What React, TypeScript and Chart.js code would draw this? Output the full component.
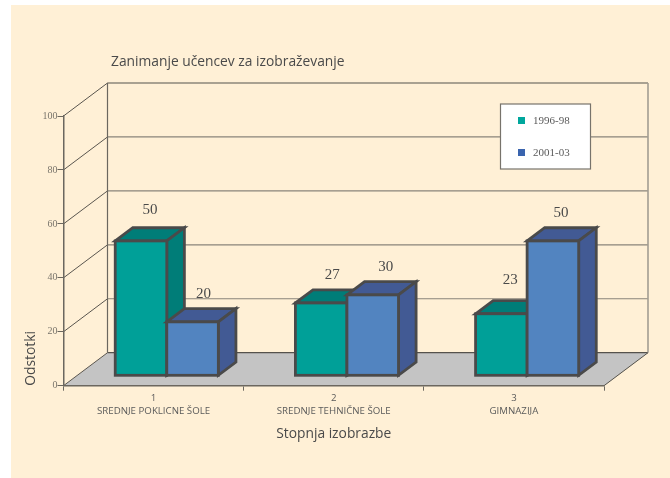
import React, { useEffect, useRef } from "react";
import { Chart, registerables } from "chart.js";

Chart.register(...registerables);

const categories: string[][] = [
  ["1", "SREDNJE POKLICNE ŠOLE"],
  ["2", "SREDNJE TEHNIČNE ŠOLE"],
  ["3", "GIMNAZIJA"],
];
const series1Label = "1996-98";
const series2Label = "2001-03";
const series1Values = [50, 27, 23];
const series2Values = [20, 30, 50];
const yTicks = [0, 20, 40, 60, 80, 100];
const chartTitle = "Zanimanje učencev za izobraževanje";
const xTitle = "Stopnja izobrazbe";
const yTitle = "Odstotki";

// pixel nudges of the value labels, per dataset, per category
const labelNudgeX = [[-1, 1, -1], [1, 3, -2]];
const labelNudgeY = [[-2, 1, -5], [1, 1, 1]];

const DEPTH_X = 44;
const DEPTH_Y = 33;
const BAR_DX = DEPTH_X * 0.4;
const BAR_DY = DEPTH_Y * 0.4;
const SHIFT_X = DEPTH_X * 0.3;
const SHIFT_Y = DEPTH_Y * 0.3;
const OUTLINE = "#4a4a4a";
const SANS = "'Open Sans', sans-serif";
const SERIF = "'Liberation Serif', serif";
const faces = [
  { front: "#00a098", side: "#007d78", swatch: "#00a79d" },
  { front: "#5284c0", side: "#425a94", swatch: "#3a64ae" },
];

const scene3d = {
  id: "scene3d",
  afterLayout(chart: any) {
    if (chart.titleBlock) chart.titleBlock.left = 111;
  },
  beforeDraw(chart: any) {
    const { ctx, scales, chartArea } = chart;
    const y = scales.y;
    const l = chartArea.left;
    const r = chartArea.right;
    const y0 = y.getPixelForValue(0);
    ctx.save();
    ctx.fillStyle = "#fff0d6";
    ctx.fillRect(11, 5, chart.width - 11, chart.height - 5);
    // floor
    ctx.fillStyle = "#c4c4c4";
    ctx.beginPath();
    ctx.moveTo(l, y0);
    ctx.lineTo(r, y0);
    ctx.lineTo(r + DEPTH_X, y0 - DEPTH_Y);
    ctx.lineTo(l + DEPTH_X, y0 - DEPTH_Y);
    ctx.closePath();
    ctx.fill();
    // walls
    yTicks.forEach((v) => {
      const p = y.getPixelForValue(v);
      ctx.strokeStyle = "#5a564f";
      ctx.lineWidth = 1;
      ctx.beginPath();
      ctx.moveTo(l, p);
      ctx.lineTo(l + DEPTH_X, p - DEPTH_Y);
      ctx.stroke();
      ctx.strokeStyle = v === 100 || v === 0 ? "#55524c" : "#8a847a";
      ctx.lineWidth = 1.2;
      ctx.beginPath();
      ctx.moveTo(l + DEPTH_X, p - DEPTH_Y);
      ctx.lineTo(r + DEPTH_X, p - DEPTH_Y);
      ctx.stroke();
    });
    const top = y.getPixelForValue(100) - DEPTH_Y;
    ctx.strokeStyle = "#6b675f";
    ctx.lineWidth = 1.2;
    ctx.beginPath();
    ctx.moveTo(l + DEPTH_X, top);
    ctx.lineTo(l + DEPTH_X, y0 - DEPTH_Y);
    ctx.stroke();
    ctx.strokeStyle = "#a39d92";
    ctx.lineWidth = 1.6;
    ctx.beginPath();
    ctx.moveTo(r + DEPTH_X, top);
    ctx.lineTo(r + DEPTH_X, y0 - DEPTH_Y);
    ctx.stroke();
    ctx.strokeStyle = "#55524c";
    ctx.lineWidth = 1;
    ctx.beginPath();
    ctx.moveTo(r, y0);
    ctx.lineTo(r + DEPTH_X, y0 - DEPTH_Y);
    ctx.stroke();
    ctx.restore();
  },
  // The library paints the left bar last; the extrusion needs it first,
  // so the automatic pass is skipped and the datasets are painted below.
  beforeDatasetDraw() {
    return false;
  },
  afterDatasetsDraw(chart: any) {
    const { ctx, data } = chart;
    data.datasets.forEach((_ds: any, i: number) => {
      const meta = chart.getDatasetMeta(i);
      const face = faces[i];
      ctx.save();
      ctx.translate(SHIFT_X, -SHIFT_Y);
      ctx.lineWidth = 2.8;
      ctx.strokeStyle = OUTLINE;
      ctx.lineJoin = "miter";
      meta.data.forEach((el: any) => {
        const { x, y, base, width } = el.getProps(["x", "y", "base", "width"], true);
        const a = x - width / 2;
        const b = x + width / 2;
        ctx.fillStyle = face.side;
        ctx.beginPath();
        ctx.moveTo(a, y);
        ctx.lineTo(a + BAR_DX, y - BAR_DY);
        ctx.lineTo(b + BAR_DX, y - BAR_DY);
        ctx.lineTo(b, y);
        ctx.closePath();
        ctx.fill();
        ctx.stroke();
        ctx.beginPath();
        ctx.moveTo(b, y);
        ctx.lineTo(b + BAR_DX, y - BAR_DY);
        ctx.lineTo(b + BAR_DX, base - BAR_DY);
        ctx.lineTo(b, base);
        ctx.closePath();
        ctx.fill();
        ctx.stroke();
      });
      meta.controller.draw();
      ctx.lineWidth = 2.8;
      ctx.strokeStyle = OUTLINE;
      meta.data.forEach((el: any) => {
        const { x, y, base, width } = el.getProps(["x", "y", "base", "width"], true);
        ctx.strokeRect(x - width / 2, y, width, base - y);
      });
      ctx.restore();
    });

    ctx.save();
    // value labels
    ctx.font = `15px ${SERIF}`;
    ctx.fillStyle = "#4a4a4a";
    ctx.textAlign = "center";
    ctx.textBaseline = "middle";
    data.datasets.forEach((ds: any, i: number) => {
      chart.getDatasetMeta(i).data.forEach((el: any, j: number) => {
        ctx.fillText(
          String(ds.data[j]),
          el.x + SHIFT_X + 10 + labelNudgeX[i][j],
          el.y - SHIFT_Y - 29 + labelNudgeY[i][j]
        );
      });
    });
    // legend
    ctx.fillStyle = "#ffffff";
    ctx.fillRect(500.5, 104, 90, 65);
    ctx.strokeStyle = "#77736b";
    ctx.lineWidth = 1.2;
    ctx.strokeRect(500.5, 104, 90, 65);
    ctx.font = `11px ${SERIF}`;
    ctx.textAlign = "left";
    data.datasets.forEach((ds: any, i: number) => {
      const cy = 120.5 + i * 32;
      ctx.fillStyle = faces[i].swatch;
      ctx.fillRect(518, cy - 3.5, 7, 7);
      ctx.fillStyle = "#5a5a5a";
      ctx.fillText(ds.label, 533, cy + 0.5);
    });
    ctx.restore();
  },
};

export default function App() {
  const ref = useRef<HTMLCanvasElement>(null);
  useEffect(() => {
    const chart = new Chart(ref.current as HTMLCanvasElement, {
      type: "bar",
      data: {
        labels: categories,
        datasets: [
          {
            label: series1Label,
            data: series1Values,
            backgroundColor: faces[0].front,
            borderWidth: 0,
          },
          {
            label: series2Label,
            data: series2Values,
            backgroundColor: faces[1].front,
            borderWidth: 0,
          },
        ],
      } as any,
      options: {
        responsive: false,
        animation: false,
        events: [],
        datasets: { bar: { categoryPercentage: 103 / 180, barPercentage: 1 } },
        layout: { padding: { left: 0, right: 66, top: 53.6, bottom: 35.6 } },
        plugins: {
          legend: { display: false },
          tooltip: { enabled: false },
          title: {
            display: true,
            text: chartTitle,
            align: "start",
            color: "#4a4a4a",
            font: { family: SANS, size: 13.8, weight: "normal", lineHeight: 16.8 / 13.8 },
            padding: { top: 0, bottom: 45.6 },
          },
        },
        scales: {
          x: {
            afterFit: (s: any) => {
              s.height = 56.7;
            },
            grid: {
              drawOnChartArea: false,
              drawTicks: true,
              tickLength: 5,
              color: "#6b675f",
            },
            border: { display: true, color: "#6b675f", width: 1.5 },
            ticks: {
              color: "#5a5a5a",
              font: { family: SANS, size: 9.7, lineHeight: 13 / 9.7 },
              padding: 1.5,
              autoSkip: false,
              maxRotation: 0,
              minRotation: 0,
            },
            title: {
              display: true,
              text: xTitle,
              color: "#4a4a4a",
              font: { family: SANS, size: 13.8, weight: "normal", lineHeight: 16.8 / 13.8 },
              padding: 0,
            },
          },
          y: {
            min: 0,
            max: 100,
            afterFit: (s: any) => {
              s.width = 63.5;
            },
            grid: {
              drawOnChartArea: false,
              drawTicks: true,
              tickLength: 6,
              color: "#6b675f",
            },
            border: { display: true, color: "#6b675f", width: 1.5 },
            afterBuildTicks: (s: any) => {
              s.ticks = yTicks.map((value) => ({ value }));
            },
            ticks: {
              color: "#7a756c",
              font: { family: SERIF, size: 10 },
              padding: 0,
            },
            title: {
              display: true,
              text: yTitle,
              align: "start",
              color: "#4a4a4a",
              font: { family: SANS, size: 13.8, weight: "normal", lineHeight: 16.8 / 13.8 },
              padding: { top: 22.6, bottom: 0 },
            },
          },
        },
      } as any,
      plugins: [scene3d],
    });
    return () => chart.destroy();
  }, []);
  return (
    <div style={{ position: "fixed", left: 0, top: 0, width: 670, height: 478 }}>
      <canvas ref={ref} width={670} height={478} style={{ display: "block" }} />
    </div>
  );
}
